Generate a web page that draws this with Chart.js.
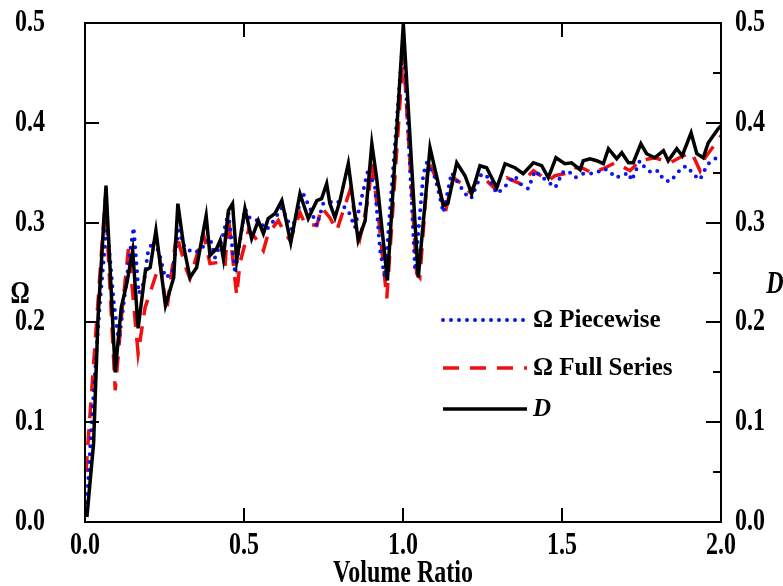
<!DOCTYPE html>
<html>
<head>
<meta charset="utf-8">
<script src="https://cdn.jsdelivr.net/npm/chart.js@4"></script>
<style>
  body { margin: 0; background: #fff; }
  #wrap { width: 783px; height: 586px; }
</style>
</head>
<body>
<div id="wrap"><canvas id="myChart" width="783" height="586"></canvas></div>
<script>
'use strict';

// Tick labels
const xTickLabels = ['0.0', '0.5', '1.0', '1.5', '2.0'];
const yTickLabels = ['0.0', '0.1', '0.2', '0.3', '0.4', '0.5'];

// Legend names
const seriesNames = ['\u03A9 Piecewise', '\u03A9 Full Series', 'D'];

// D (black solid)
const dX = [0.006, 0.027, 0.041, 0.066, 0.095, 0.114, 0.132, 0.150, 0.167, 0.190,
  0.205, 0.223, 0.253, 0.279, 0.292, 0.311, 0.330, 0.351, 0.381, 0.393,
  0.414, 0.425, 0.435, 0.451, 0.464, 0.477, 0.503, 0.524, 0.545, 0.561,
  0.576, 0.597, 0.619, 0.647, 0.676, 0.702, 0.729, 0.744, 0.760, 0.770,
  0.786, 0.802, 0.828, 0.859, 0.881, 0.902, 0.917, 0.951, 1.001, 1.048,
  1.085, 1.127, 1.141, 1.169, 1.195, 1.216, 1.242, 1.263, 1.295, 1.321,
  1.352, 1.378, 1.410, 1.436, 1.457, 1.481, 1.509, 1.530, 1.557, 1.567,
  1.588, 1.609, 1.630, 1.646, 1.672, 1.688, 1.709, 1.724, 1.748, 1.766,
  1.792, 1.819, 1.834, 1.861, 1.878, 1.906, 1.924, 1.944, 1.960, 1.991, 2.000];
const dVals = [0.005, 0.079, 0.205, 0.337, 0.150, 0.215, 0.240, 0.272, 0.194, 0.252,
  0.255, 0.292, 0.217, 0.245, 0.319, 0.275, 0.245, 0.255, 0.307, 0.267,
  0.274, 0.282, 0.264, 0.312, 0.319, 0.262, 0.314, 0.284, 0.302, 0.289,
  0.304, 0.309, 0.322, 0.280, 0.329, 0.304, 0.322, 0.324, 0.339, 0.319,
  0.305, 0.322, 0.359, 0.282, 0.302, 0.379, 0.345, 0.242, 0.499, 0.245,
  0.375, 0.317, 0.319, 0.360, 0.347, 0.329, 0.357, 0.355, 0.335, 0.359,
  0.355, 0.349, 0.360, 0.357, 0.345, 0.365, 0.359, 0.360, 0.353, 0.362,
  0.364, 0.362, 0.359, 0.374, 0.364, 0.370, 0.360, 0.360, 0.379, 0.369,
  0.365, 0.372, 0.362, 0.374, 0.367, 0.390, 0.369, 0.365, 0.380, 0.394, 0.397];

// Omega piecewise (blue dotted)
const pwX = [0.006, 0.022, 0.038, 0.047, 0.069, 0.090, 0.106, 0.126, 0.142, 0.153,
  0.169, 0.185, 0.198, 0.214, 0.233, 0.252, 0.274, 0.294, 0.314, 0.340,
  0.362, 0.393, 0.409, 0.430, 0.451, 0.472, 0.503, 0.519, 0.545, 0.571,
  0.587, 0.619, 0.650, 0.686, 0.708, 0.729, 0.749, 0.792, 0.828, 0.849,
  0.870, 0.891, 0.912, 0.928, 0.943, 1.001, 1.038, 1.064, 1.075, 1.101,
  1.111, 1.127, 1.153, 1.173, 1.195, 1.214, 1.247, 1.270, 1.295, 1.315,
  1.352, 1.368, 1.394, 1.415, 1.431, 1.452, 1.478, 1.488, 1.499, 1.519,
  1.541, 1.567, 1.588, 1.609, 1.630, 1.648, 1.667, 1.688, 1.709, 1.719,
  1.745, 1.761, 1.782, 1.803, 1.819, 1.840, 1.861, 1.881, 1.897, 1.910,
  1.934, 1.944, 1.960, 1.986, 2.000];
const pwVals = [0.020, 0.105, 0.180, 0.220, 0.300, 0.222, 0.180, 0.230, 0.272, 0.295,
  0.229, 0.240, 0.270, 0.282, 0.270, 0.245, 0.249, 0.292, 0.275, 0.270,
  0.272, 0.285, 0.265, 0.282, 0.310, 0.249, 0.314, 0.304, 0.302, 0.293,
  0.299, 0.315, 0.293, 0.329, 0.314, 0.297, 0.319, 0.322, 0.312, 0.295,
  0.325, 0.354, 0.335, 0.272, 0.245, 0.489, 0.252, 0.349, 0.360, 0.345,
  0.332, 0.310, 0.350, 0.340, 0.329, 0.324, 0.349, 0.345, 0.329, 0.334,
  0.347, 0.339, 0.334, 0.352, 0.347, 0.342, 0.335, 0.340, 0.350, 0.352,
  0.345, 0.349, 0.349, 0.350, 0.354, 0.352, 0.345, 0.347, 0.350, 0.342,
  0.362, 0.355, 0.350, 0.352, 0.343, 0.341, 0.349, 0.356, 0.356, 0.349,
  0.343, 0.350, 0.359, 0.365, 0.366];

// Omega full series (red dashed)
const fsX = [0.003, 0.064, 0.095, 0.116, 0.137, 0.167, 0.189, 0.210, 0.236, 0.257,
  0.288, 0.299, 0.320, 0.330, 0.372, 0.393, 0.419, 0.440, 0.451, 0.477,
  0.487, 0.514, 0.535, 0.561, 0.576, 0.608, 0.624, 0.645, 0.676, 0.692,
  0.729, 0.744, 0.770, 0.792, 0.807, 0.833, 0.865, 0.891, 0.902, 0.922,
  0.949, 1.001, 1.043, 1.053, 1.080, 1.111, 1.132, 1.158, 1.185, 1.211,
  1.232, 1.263, 1.289, 1.305, 1.326, 1.368, 1.410, 1.457, 1.478, 1.509,
  1.536, 1.562, 1.593, 1.630, 1.667, 1.714, 1.745, 1.792, 1.840, 1.881,
  1.908, 1.934, 1.950, 1.991, 2.000];
const fsVals = [0.050, 0.325, 0.132, 0.210, 0.275, 0.169, 0.215, 0.235, 0.260, 0.212,
  0.289, 0.275, 0.252, 0.244, 0.289, 0.259, 0.260, 0.255, 0.305, 0.227,
  0.259, 0.292, 0.285, 0.272, 0.289, 0.302, 0.292, 0.282, 0.310, 0.299,
  0.297, 0.315, 0.305, 0.292, 0.307, 0.332, 0.285, 0.325, 0.359, 0.309,
  0.224, 0.470, 0.249, 0.245, 0.362, 0.339, 0.309, 0.345, 0.339, 0.330,
  0.342, 0.342, 0.334, 0.340, 0.345, 0.339, 0.352, 0.342, 0.347, 0.349,
  0.355, 0.355, 0.350, 0.354, 0.360, 0.352, 0.362, 0.365, 0.360, 0.367,
  0.370, 0.352, 0.365, 0.383, 0.387];

// Pair up x and y arrays for the linear x scale
function toPoints(xs, ys) {
  let pts = [];
  for (let i = 0; i < xs.length; i++) {
    pts.push({ x: xs[i], y: ys[i] });
  }
  return pts;
}

const FONT = '"Liberation Serif", "Times New Roman", serif';
const STRETCH = 1.3;

// Text drawn a bit taller than wide, like the original export
function tallText(ctx, text, x, y, align, size, italic) {
  ctx.save();
  ctx.translate(x, y);
  ctx.scale(1, STRETCH);
  ctx.font = (italic ? 'italic ' : '') + 'bold ' + size + 'px ' + FONT;
  ctx.fillStyle = '#000';
  ctx.textAlign = align;
  ctx.textBaseline = 'middle';
  ctx.fillText(text, 0, 0);
  ctx.restore();
}

// Frame, inward ticks, tick labels, axis titles and legend
const framePlugin = {
  id: 'frame',
  afterDatasetsDraw(chart) {
    const ctx = chart.ctx;
    const a = chart.chartArea;
    const xs = chart.scales.x;
    const ys = chart.scales.y;
    const ys2 = chart.scales.y2;

    ctx.save();
    ctx.strokeStyle = '#000';
    ctx.lineWidth = 2;
    ctx.strokeRect(a.left, a.top, a.right - a.left, a.bottom - a.top);

    ctx.beginPath();
    // left ticks
    ys.ticks.forEach(function (t) {
      let py = Math.round(ys.getPixelForValue(t.value));
      ctx.moveTo(a.left, py);
      ctx.lineTo(a.left + 14, py);
    });
    // right ticks, minor every 0.05
    ys2.ticks.forEach(function (t) {
      let py = Math.round(ys2.getPixelForValue(t.value));
      let major = Math.abs(t.value * 10 - Math.round(t.value * 10)) < 1e-6;
      ctx.moveTo(a.right, py);
      ctx.lineTo(a.right - (major ? 15 : 8), py);
    });
    // top and bottom ticks
    xs.ticks.forEach(function (t) {
      let px = Math.round(xs.getPixelForValue(t.value));
      ctx.moveTo(px, a.bottom);
      ctx.lineTo(px, a.bottom - 14);
      ctx.moveTo(px, a.top);
      ctx.lineTo(px, a.top + 14);
    });
    ctx.stroke();
    ctx.restore();

    // tick labels
    xs.ticks.forEach(function (t, i) {
      tallText(ctx, xTickLabels[i], xs.getPixelForValue(t.value), a.bottom + 24, 'center', 24);
    });
    ys.ticks.forEach(function (t, i) {
      tallText(ctx, yTickLabels[i], a.left - 40, ys.getPixelForValue(t.value), 'right', 24);
      tallText(ctx, yTickLabels[i], a.right + 14, ys.getPixelForValue(t.value), 'left', 24);
    });

    // axis titles
    tallText(ctx, 'Volume Ratio', (a.left + a.right) / 2, a.bottom + 52, 'center', 24);
    tallText(ctx, '\u03A9', 20, (a.top + a.bottom) / 2 + 22, 'center', 24);
    tallText(ctx, 'D', a.right + 54, (a.top + a.bottom) / 2 + 12, 'center', 24, true);

    // legend
    let lx = a.left + 358;
    let rows = [a.top + 297, a.top + 345, a.top + 386];
    chart.data.datasets.forEach(function (ds, i) {
      ctx.save();
      ctx.strokeStyle = ds.borderColor;
      ctx.lineWidth = ds.borderWidth;
      ctx.lineCap = ds.borderCapStyle || 'butt';
      ctx.setLineDash(ds.borderDash || []);
      ctx.beginPath();
      ctx.moveTo(lx, rows[i]);
      ctx.lineTo(lx + 84, rows[i]);
      ctx.stroke();
      ctx.restore();
      ctx.save();
      ctx.font = (i === 2 ? 'italic ' : '') + 'bold 25px ' + FONT;
      ctx.fillStyle = '#000';
      ctx.textBaseline = 'middle';
      ctx.fillText(seriesNames[i], lx + 90, rows[i] + 1);
      ctx.restore();
    });
  }
};

const data = {
  datasets: [{
    label: seriesNames[0],
    data: toPoints(pwX, pwVals),
    borderColor: '#0a14f0',
    borderWidth: 4,
    borderDash: [0, 8],
    borderCapStyle: 'round',
    pointRadius: 0,
    tension: 0,
    yAxisID: 'y',
    order: 1
  }, {
    label: seriesNames[1],
    data: toPoints(fsX, fsVals),
    borderColor: '#f01010',
    borderWidth: 3.5,
    borderDash: [16, 11],
    pointRadius: 0,
    tension: 0,
    yAxisID: 'y',
    order: 2
  }, {
    label: seriesNames[2],
    data: toPoints(dX, dVals),
    borderColor: '#000000',
    borderWidth: 3.5,
    pointRadius: 0,
    tension: 0,
    yAxisID: 'y2',
    order: 0
  }]
};

const config = {
  type: 'line',
  data: data,
  options: {
    responsive: false,
    animation: false,
    devicePixelRatio: 1,
    layout: { padding: { top: 23, left: 0, right: 0, bottom: 0 } },
    plugins: {
      legend: { display: false },
      tooltip: { enabled: false }
    },
    scales: {
      x: {
        type: 'linear',
        min: 0,
        max: 2,
        ticks: { stepSize: 0.5, display: false },
        grid: { display: false },
        border: { display: false },
        afterFit: function (s) { s.height = 64; }
      },
      y: {
        min: 0,
        max: 0.5,
        ticks: { stepSize: 0.1, display: false },
        grid: { display: false },
        border: { display: false },
        afterFit: function (s) { s.width = 85; }
      },
      y2: {
        position: 'right',
        min: 0,
        max: 0.5,
        ticks: { stepSize: 0.05, display: false },
        grid: { display: false },
        border: { display: false },
        afterFit: function (s) { s.width = 62; }
      }
    }
  },
  plugins: [framePlugin]
};

const myChart = new Chart(document.getElementById('myChart'), config);
</script>
</body>
</html>
